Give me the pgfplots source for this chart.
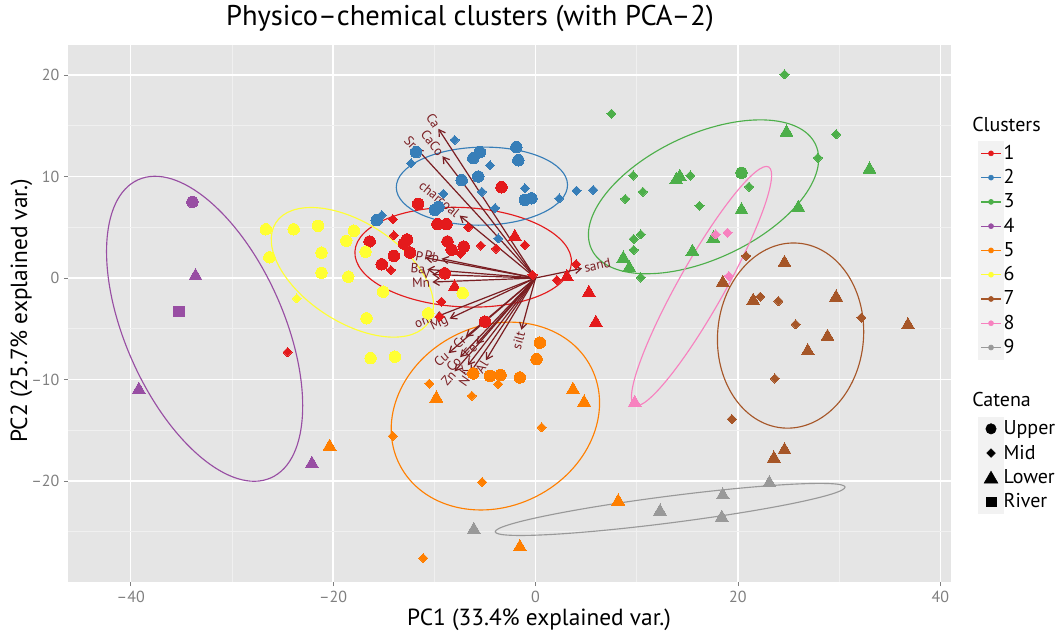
\documentclass[border=0pt]{standalone}
\usepackage{pgfplots}
\pgfplotsset{compat=1.18}
\usepackage{fontspec}
\setmainfont{PT Sans}
\usetikzlibrary{arrows.meta}
\definecolor{c1}{HTML}{E41A1C}
\definecolor{c2}{HTML}{377EB8}
\definecolor{c3}{HTML}{4DAF4A}
\definecolor{c4}{HTML}{984EA3}
\definecolor{c5}{HTML}{FF7F00}
\definecolor{c6}{HTML}{FFFF33}
\definecolor{c7}{HTML}{A65628}
\definecolor{c8}{HTML}{F781BF}
\definecolor{c9}{HTML}{999999}
\definecolor{panelbg}{HTML}{E5E5E5}
\definecolor{gridminor}{HTML}{F0F0F0}
\definecolor{keybg}{HTML}{F2F2F2}
\definecolor{ticktext}{HTML}{7F7F7F}
\definecolor{arrowc}{HTML}{7A1E22}
\pgfplotsset{
  up/.style={only marks, forget plot, color=#1, mark=*, mark size=4.3pt, mark options={draw=#1, fill=#1, line width=0pt}},
  mid/.style={only marks, forget plot, color=#1, mark=square*, mark size=2.4pt, mark options={draw=#1, fill=#1, line width=0pt, rotate=45}},
  low/.style={only marks, forget plot, color=#1, mark=triangle*, mark size=5.6pt, mark options={draw=#1, fill=#1, line width=0pt}},
  riv/.style={only marks, forget plot, color=#1, mark=square*, mark size=4.1pt, mark options={draw=#1, fill=#1, line width=0pt}},
  vec/.style={forget plot, arrowc, line width=0.9pt, -{Straight Barb[length=4.5pt,width=5.5pt]}},
  ckey/.style={legend image code/.code={
      \fill[keybg] (0pt,-8.9pt) rectangle (18.5pt,8.9pt);
      \draw[#1, line width=0.9pt] (2pt,0pt) -- (16.5pt,0pt);
      \fill[#1] (9.25pt,0pt) circle (1.9pt);}},
  skey/.style={legend image code/.code={
      \fill[keybg] (0pt,-8.9pt) rectangle (18.5pt,8.9pt);
      #1}},
  titlekey/.style={legend image code/.code={\path[draw=none, fill=none] (0pt,-12pt) rectangle (0pt,8pt);}},
  spacekey/.style={legend image code/.code={\path[draw=none, fill=none] (0pt,-11.4pt) rectangle (0pt,11.4pt);}},
}
\newcommand{\vlab}[5]{\node[rotate=#3, anchor=#4, text=arrowc, inner sep=1.5pt, font=\fontsize{10}{11}\selectfont] at (axis cs:#1,#2) {#5};}
\newcommand{\clell}[6]{\draw[#1, line width=0.85pt, rotate around={#6:(axis cs:#2,#3)}] (axis cs:#2,#3) ellipse [x radius=#4*7.6pt, y radius=#5*7.6pt];}
\begin{document}
\begin{tikzpicture}
\path[use as bounding box] (-51pt,-38.25pt) rectangle (744pt,436.5pt);
\begin{axis}[
  at={(0pt,0pt)}, anchor=south west,
  x=7.59pt, y=7.6125pt,
  xmin=-46.2, xmax=41.1, ymin=-29.95, ymax=22.96,
  axis background/.style={fill=panelbg},
  axis line style={draw=none},
  xtick={-40,-20,0,20,40}, xticklabels={–40,–20,0,20,40},
  ytick={-20,-10,0,10,20}, yticklabels={–20,–10,0,10,20},
  minor xtick={-30,-10,10,30}, minor ytick={-25,-15,-5,5,15},
  grid=both,
  major grid style={white, line width=1.1pt},
  minor grid style={gridminor, line width=0.55pt},
  xtick pos=bottom, ytick pos=left, tick align=outside,
  major tick length=3pt, minor tick length=0pt,
  tick style={ticktext, line width=0.6pt},
  ticklabel style={font=\fontsize{12}{14}\selectfont, text=ticktext},
  legend style={draw=none, fill=none, at={(1,1)}, anchor=north west, xshift=17pt, yshift=-50pt,
    font=\fontsize{15}{17}\selectfont, nodes={inner sep=0pt}, row sep=0pt,
    /tikz/every even column/.style={column sep=5pt}},
  legend cell align=left,
]
% legend entries
\addlegendimage{titlekey}\addlegendentry{\hspace*{-23.5pt}Clusters}
\addlegendimage{ckey=c1}\addlegendentry{1}
\addlegendimage{ckey=c2}\addlegendentry{2}
\addlegendimage{ckey=c3}\addlegendentry{3}
\addlegendimage{ckey=c4}\addlegendentry{4}
\addlegendimage{ckey=c5}\addlegendentry{5}
\addlegendimage{ckey=c6}\addlegendentry{6}
\addlegendimage{ckey=c7}\addlegendentry{7}
\addlegendimage{ckey=c8}\addlegendentry{8}
\addlegendimage{ckey=c9}\addlegendentry{9}
\addlegendimage{spacekey}\addlegendentry{}
\addlegendimage{titlekey}\addlegendentry{\hspace*{-23.5pt}Catena}
\addlegendimage{skey={\fill (9.25pt,0pt) circle (3.9pt);}}\addlegendentry{Upper}
\addlegendimage{skey={\fill (9.25pt,3.2pt) -- (12.45pt,0pt) -- (9.25pt,-3.2pt) -- (6.05pt,0pt) -- cycle;}}\addlegendentry{Mid}
\addlegendimage{skey={\fill (9.25pt,4.6pt) -- (14.4pt,-4.3pt) -- (4.1pt,-4.3pt) -- cycle;}}\addlegendentry{Lower}
\addlegendimage{skey={\fill (5.6pt,-3.65pt) rectangle (12.9pt,3.65pt);}}\addlegendentry{River}

% cluster 1
\addplot[up=c1] coordinates {(-3.36,8.94) (-11.6,7.3) (-9.7,5.3) (-8.8,5.3) (-16.4,3.6) (-12.7,3.8) (-13.0,3.4) (-8.7,3.6) (-8.3,2.8) (-7.1,3.1) (-14.0,2.17) (-12.4,2.5) (-15.2,1.35) (-8.96,0.46) (-5.0,-4.3)};
\addplot[mid=c1] coordinates {(-6.65,5.0) (-14.1,5.8) (-14.0,4.2) (-7.4,2.4) (-5.4,3.2) (-3.9,2.9) (-1.06,3.25) (-14.3,0.79) (-0.3,0.3) (4.0,1.38) (2.1,-0.2) (-9.3,-2.33) (-9.46,-3.8) (-24.5,-7.3)};
\addplot[low=c1] coordinates {(-2.05,4.07) (3.1,0.1) (-8.0,-0.9) (5.27,-1.45) (5.96,-4.4)};
% cluster 2
\addplot[up=c2] coordinates {(-11.8,12.4) (-5.5,12.4) (-6.15,11.8) (-1.9,12.9) (-1.7,11.6) (-7.3,9.65) (-5.66,10.0) (-1.06,7.7) (-0.4,7.85) (-9.6,7.0) (-9.95,6.7) (-15.7,5.7)};
\addplot[mid=c2] coordinates {(-8.0,13.6) (-12.3,11.3) (-4.5,11.1) (-1.06,8.84) (-5.3,8.5) (2.34,7.85) (-9.1,8.3) (-4.0,6.9) (-3.7,3.9) (4.05,8.6) (5.7,8.67) (-15.2,6.2)};
% cluster 3
\addplot[up=c3] coordinates {(20.35,10.37)};
\addplot[mid=c3] coordinates {(7.5,16.2) (24.6,20.07) (29.7,14.15) (27.9,11.85) (21.1,9.0) (9.65,10.1) (15.3,10.1) (10.6,8.5) (8.86,7.8) (16.2,7.1) (10.4,4.3) (9.7,3.84) (9.7,2.76) (10.4,0.05)};
\addplot[low=c3] coordinates {(24.8,14.35) (33.0,10.7) (20.35,6.7) (25.96,6.93) (13.9,9.65) (14.26,9.98) (17.56,3.9) (15.5,2.6) (8.67,1.94) (9.26,1.0)};
% cluster 4
\addplot[up=c4] coordinates {(-33.9,7.5)};
\addplot[low=c4] coordinates {(-33.6,0.2) (-39.2,-11.0) (-22.1,-18.3)};
\addplot[riv=c4] coordinates {(-35.2,-3.3)};
% cluster 5
\addplot[up=c5] coordinates {(0.43,-6.37) (0.1,-8.0) (-6.15,-9.4) (-4.5,-9.65) (-3.46,-9.56) (-1.55,-9.8)};
\addplot[mid=c5] coordinates {(-10.5,-10.4) (-3.7,-10.45) (-6.3,-11.6) (0.6,-14.7) (-14.1,-15.57) (-5.27,-20.1) (-11.1,-27.6)};
\addplot[low=c5] coordinates {(-9.8,-11.85) (3.7,-11.0) (4.8,-12.25) (8.17,-22.0) (-1.55,-26.5) (-20.35,-16.6)};
% cluster 6
\addplot[up=c6] coordinates {(-26.65,4.8) (-23.9,4.8) (-21.5,5.15) (-17.95,4.66) (-18.7,3.67) (-26.3,2.04) (-21.15,2.5) (-21.15,0.52) (-18.5,0.13) (-16.8,2.6) (-15.05,-1.35) (-16.7,-3.97) (-10.6,-3.48) (-16.3,-7.9) (-13.9,-7.75) (-7.2,-1.5)};
\addplot[mid=c6] coordinates {(-23.6,-2.0)};
% cluster 7
\addplot[mid=c7] coordinates {(20.8,2.17) (22.2,-1.84) (24.0,-2.27) (32.2,-3.9) (25.7,-4.56) (23.65,-9.9) (19.4,-13.9)};
\addplot[low=c7] coordinates {(24.6,1.5) (18.5,-0.46) (21.5,-2.23) (29.7,-1.9) (36.8,-4.63) (28.85,-5.78) (26.9,-7.2) (24.6,-16.95) (23.55,-17.77)};
% cluster 8
\addplot[mid=c8] coordinates {(17.8,4.3) (18.97,4.46) (19.1,0.2)};
\addplot[low=c8] coordinates {(9.8,-12.3)};
% cluster 9
\addplot[low=c9] coordinates {(-6.1,-24.8) (12.3,-23.0) (18.5,-21.4) (18.4,-23.6) (23.1,-20.2)};

% ellipses
\clell{c1}{-7.15}{2.05}{10.7}{4.9}{-3}
\clell{c2}{-5.3}{9.05}{8.45}{3.85}{1}
\clell{c3}{16.6}{8.0}{12.2}{6.15}{25}
\clell{c4}{-32.7}{-5.0}{16.1}{7.8}{-66}
\clell{c5}{-3.97}{-13.6}{10.6}{8.9}{26.7}
\clell{c6}{-18.1}{0.56}{9.0}{4.9}{-33}
\clell{c7}{25.2}{-5.67}{9.15}{7.2}{85}
\clell{c8}{16.4}{-0.8}{13.5}{2.27}{60.6}
\clell{c9}{13.3}{-22.8}{17.4}{1.32}{7.3}

% variable arrows
\addplot[vec] coordinates {(0,0) (-9.6,14.7)};
\addplot[vec] coordinates {(0,0) (-9.2,12.0)};
\addplot[vec] coordinates {(0,0) (-11.8,12.8)};
\addplot[vec] coordinates {(0,0) (-7.5,6.15)};
\addplot[vec] coordinates {(0,0) (-10.9,2.0)};
\addplot[vec] coordinates {(0,0) (-9.3,1.9)};
\addplot[vec] coordinates {(0,0) (-10.7,0.85)};
\addplot[vec] coordinates {(0,0) (-10.2,0.35)};
\addplot[vec] coordinates {(0,0) (-10.2,-0.4)};
\addplot[vec] coordinates {(0,0) (-10.0,-3.9)};
\addplot[vec] coordinates {(0,0) (-8.5,-4.0)};
\addplot[vec] coordinates {(0,0) (4.6,0.95)};
\addplot[vec] coordinates {(0,0) (-1.4,-5.1)};
\addplot[vec] coordinates {(0,0) (-6.9,-5.8)};
\addplot[vec] coordinates {(0,0) (-8.6,-7.4)};
\addplot[vec] coordinates {(0,0) (-5.85,-6.5)};
\addplot[vec] coordinates {(0,0) (-7.45,-7.8)};
\addplot[vec] coordinates {(0,0) (-8.0,-9.2)};
\addplot[vec] coordinates {(0,0) (-6.7,-8.6)};
\addplot[vec] coordinates {(0,0) (-6.45,-9.3)};
\addplot[vec] coordinates {(0,0) (-4.9,-8.1)};

\vlab{-9.6}{14.7}{-56.85}{east}{Ca}
\vlab{-9.2}{12.0}{-52.5}{east}{CaCo}
\vlab{-11.8}{12.8}{-47.3}{east}{Sr}
\vlab{-7.5}{6.15}{-39.35}{east}{charcoal}
\vlab{-10.9}{2.0}{-10.4}{east}{P}
\vlab{-9.3}{1.9}{-11.5}{east}{Pb}
\vlab{-10.7}{0.85}{-4.5}{east}{Ba}
\vlab{-10.2}{0.35}{-2.0}{east}{V}
\vlab{-10.2}{-0.4}{2.2}{east}{Mn}
\vlab{-10.0}{-3.9}{21.3}{east}{om}
\vlab{-8.5}{-4.0}{25.2}{east}{Mg}
\vlab{4.6}{0.95}{11.7}{west}{sand}
\vlab{-1.4}{-5.1}{74.6}{east}{silt}
\vlab{-6.9}{-5.8}{40.0}{east}{Cr}
\vlab{-8.6}{-7.4}{40.7}{east}{Cu}
\vlab{-5.85}{-6.5}{48.0}{east}{Fe}
\vlab{-7.45}{-7.8}{46.3}{east}{Co}
\vlab{-8.0}{-9.2}{49.0}{east}{Zn}
\vlab{-6.7}{-8.6}{52.1}{east}{K}
\vlab{-6.45}{-9.3}{55.3}{east}{Ni}
\vlab{-4.9}{-8.1}{58.8}{east}{Al}
\end{axis}
\node[font=\fontsize{21.4}{24}\selectfont] at (301.5pt,423pt) {Physico–chemical clusters (with PCA–2)};
\node[font=\fontsize{17.5}{20}\selectfont] at (353.25pt,-28.5pt) {PC1 (33.4\% explained var.)};
\node[font=\fontsize{17.5}{20}\selectfont, rotate=90] at (-35pt,203.25pt) {PC2 (25.7\% explained var.)};
\end{tikzpicture}
\end{document}
